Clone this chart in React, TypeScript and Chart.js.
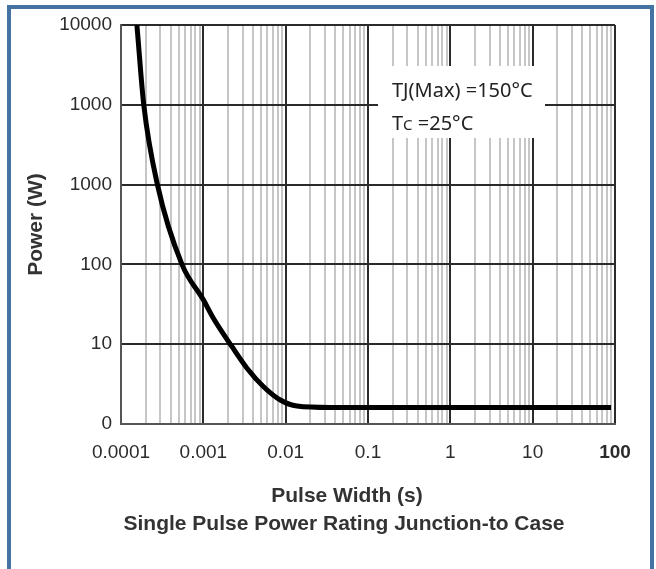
import React, { useEffect, useRef } from 'react';
import { Chart, registerables } from 'chart.js';

Chart.register(...registerables);

// Pulse width (s) and single-pulse power (axis units)
const pulseWidth = [1.56e-4, 1.89e-4, 2.77e-4, 5.5e-4, 1.0e-3, 1.33e-3, 2.23e-3, 3.39e-3, 5.39e-3, 8.6e-3, 1.37e-2, 3.48e-2, 89.6];
const power = [100000, 10000, 1000, 100, 36, 21, 9.3, 5.0, 2.93, 2.0, 1.68, 1.61, 1.61];

const xMajorTicks = [0.0001, 0.001, 0.01, 0.1, 1, 10, 100];
const xTickLabels = ['0.0001', '0.001', '0.01', '0.1', '1', '10', '100'];
const yTickValues = [1, 10, 100, 1000, 10000, 100000];
const yTickLabels = ['0', '10', '100', '1000', '1000', '10000'];

const xAxisTitle = 'Pulse Width (s)';
const chartCaption = 'Single Pulse Power Rating Junction-to Case';
const yAxisTitle = 'Power (W)';
const noteLine1 = 'TJ(Max) =150°C';
const noteLine2 = ['T', 'C', ' =25°C'];

const W = 656;
const H = 569;

const isMajor = (v: number) => xMajorTicks.findIndex((m) => Math.abs(m - v) < m * 1e-6) >= 0;

const xAllTicks: number[] = [];
xMajorTicks.forEach((m, i) => {
  xAllTicks.push(m);
  if (i < xMajorTicks.length - 1) {
    for (let k = 2; k <= 9; k++) xAllTicks.push(parseFloat((m * k).toPrecision(6)));
  }
});

const decor = {
  id: 'decor',
  beforeDraw(chart: any) {
    const ctx = chart.ctx;
    ctx.save();
    ctx.fillStyle = '#ffffff';
    ctx.fillRect(0, 0, W, H);
    ctx.fillStyle = '#4473a3';
    ctx.fillRect(7, 5, 647, 4);
    ctx.fillRect(7, 5, 4, H - 5);
    ctx.fillRect(650, 5, 4, H - 5);
    ctx.restore();
  },
  afterDraw(chart: any) {
    const ctx = chart.ctx;
    ctx.save();
    // annotation box
    ctx.fillStyle = '#ffffff';
    ctx.fillRect(378, 66, 167, 72);
    ctx.fillStyle = '#222222';
    ctx.textAlign = 'left';
    ctx.textBaseline = 'alphabetic';
    ctx.font = '20px "Noto Sans"';
    ctx.fillText(noteLine1, 392, 97);
    let x = 392;
    ctx.fillText(noteLine2[0], x, 130);
    x += ctx.measureText(noteLine2[0]).width;
    ctx.font = '15px "Noto Sans"';
    ctx.fillText(noteLine2[1], x, 130);
    x += ctx.measureText(noteLine2[1]).width;
    ctx.font = '20px "Noto Sans"';
    ctx.fillText(noteLine2[2], x, 130);
    // x axis titles
    ctx.fillStyle = '#333333';
    ctx.textAlign = 'center';
    ctx.font = 'bold 21px "Liberation Sans", Arial, sans-serif';
    ctx.fillText(xAxisTitle, 347, 502);
    ctx.fillText(chartCaption, 344, 530);
    ctx.restore();
  },
};

export default function App() {
  const ref = useRef<HTMLCanvasElement>(null);
  useEffect(() => {
    if (!ref.current) return;
    const chart = new Chart(ref.current, {
      type: 'line',
      data: {
        datasets: [
          {
            data: pulseWidth.map((t, i) => ({ x: t, y: power[i] })),
            borderColor: '#000000',
            borderWidth: 5,
            pointRadius: 0,
            fill: false,
            cubicInterpolationMode: 'monotone',
          },
        ],
      },
      options: {
        animation: false,
        responsive: false,
        layout: { padding: { left: 0, top: 25, right: 41, bottom: 0 } },
        plugins: { legend: { display: false }, tooltip: { enabled: false } },
        scales: {
          x: {
            type: 'logarithmic',
            min: 0.0001,
            max: 100,
            afterBuildTicks: (scale: any) => {
              scale.ticks = xAllTicks.map((v) => ({ value: v, major: isMajor(v) }));
            },
            afterFit: (scale: any) => {
              scale.height = 145;
            },
            grid: {
              drawTicks: false,
              lineWidth: 2,
              color: (c: any) => (c.tick && isMajor(c.tick.value) ? '#2a2a2a' : '#c6c6c6'),
            },
            border: { color: '#555555', width: 2 },
            ticks: {
              autoSkip: false,
              maxRotation: 0,
              padding: 17,
              color: '#2b2b2b',
              font: (c: any) => ({
                family: '"Liberation Sans", Arial, sans-serif',
                size: 19,
                weight: c.tick && Math.abs(c.tick.value - 100) < 1e-6 ? 'bold' : 'normal',
              }),
              callback: (v: any) => {
                const i = xMajorTicks.findIndex((m) => Math.abs(m - v) < m * 1e-6);
                return i >= 0 ? xTickLabels[i] : '';
              },
            },
          },
          y: {
            type: 'logarithmic',
            min: 1,
            max: 100000,
            afterBuildTicks: (scale: any) => {
              scale.ticks = yTickValues.map((v) => ({ value: v, major: true }));
            },
            afterFit: (scale: any) => {
              scale.width = 121;
            },
            grid: { drawTicks: false, lineWidth: 2, color: '#2a2a2a' },
            border: { color: '#555555', width: 2 },
            title: {
              display: true,
              text: yAxisTitle,
              color: '#333333',
              font: { family: '"Liberation Sans", Arial, sans-serif', size: 21, weight: 'bold' },
              padding: { top: 24, bottom: 0 },
            },
            ticks: {
              autoSkip: false,
              padding: 9,
              color: '#2b2b2b',
              font: { family: '"Liberation Sans", Arial, sans-serif', size: 19 },
              callback: (_v: any, i: number) => yTickLabels[i],
            },
          },
        },
      },
      plugins: [decor],
    } as any);
    return () => chart.destroy();
  }, []);
  return (
    <div style={{ position: 'absolute', left: 0, top: 0, width: W, height: H }}>
      <canvas ref={ref} width={W} height={H} />
    </div>
  );
}
